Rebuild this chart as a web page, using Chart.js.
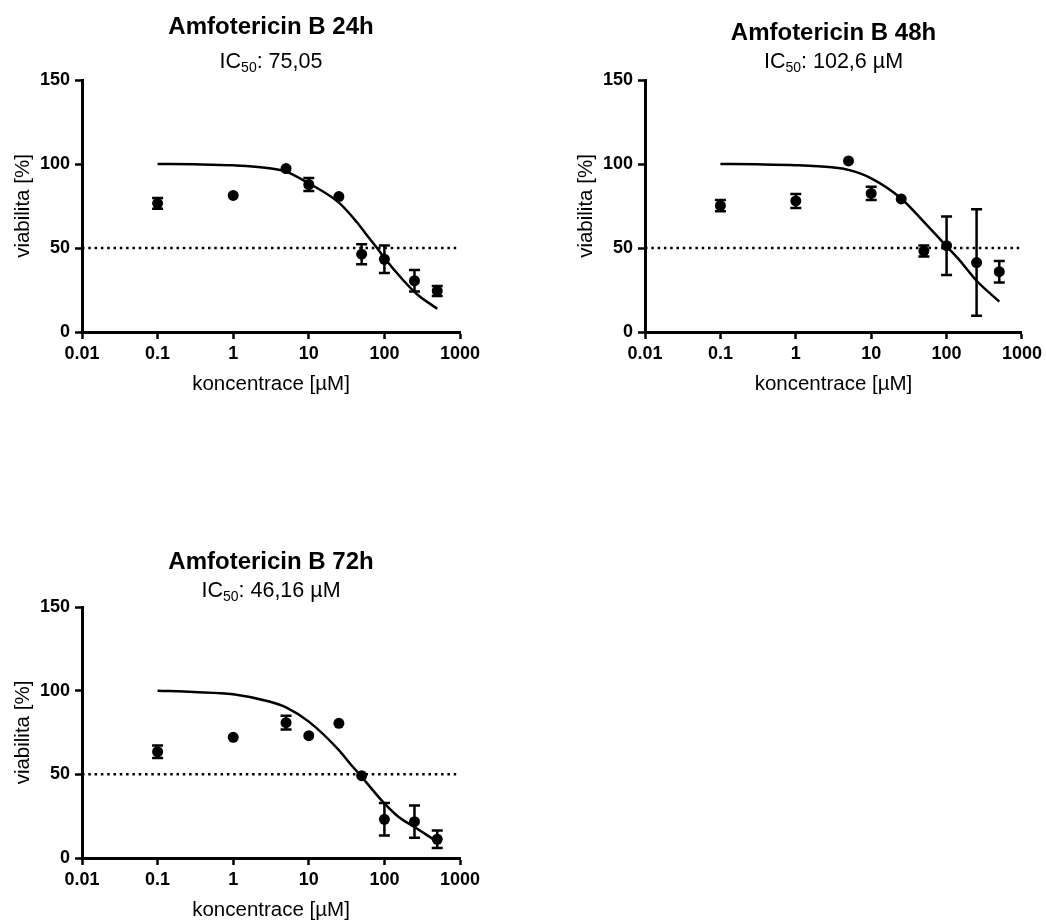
<!DOCTYPE html>
<html>
<head>
<meta charset="utf-8">
<title>Amfotericin B – viabilita</title>
<script src="https://cdn.jsdelivr.net/npm/chart.js@4.4.1/dist/chart.umd.min.js"></script>
<style>
  html, body { margin: 0; padding: 0; background: #fff; }
  #wrap { position: relative; width: 1046px; height: 920px; }
  #wrap canvas { position: absolute; }
</style>
</head>
<body>
<div id="wrap">
  <canvas id="c24" width="500" height="402" style="left:0;top:0"></canvas>
  <canvas id="c48" width="483" height="402" style="left:563px;top:0"></canvas>
  <canvas id="c72" width="500" height="401" style="left:0;top:527px"></canvas>
</div>
<script>
// koncentrace [µM] - stejné pro všechny časy
const conc = [0.1, 1, 5, 10, 25, 50, 100, 250, 500];

// 24 h: průměr a chyba (SEM)
const viab24 = [76.6, 81.3, 97.3, 87.8, 80.6, 46.3, 43.3, 30.5, 24.4];
const err24 = [3.2, 0, 0, 3.8, 0, 6.0, 8.2, 6.4, 3.0];
const fitX24 = [0.1, 0.3, 1, 3, 5, 10, 25, 43, 65, 80, 100, 180, 270, 500];
const fitY24 = [100, 99.8, 99.2, 97.5, 95.5, 88.5, 77, 65.5, 55, 50, 44, 30.5, 22.5, 13.8];

// 48 h
const viab48 = [75.2, 78.0, 101.8, 82.5, 79.2, 48.2, 51.4, 41.3, 35.9];
const err48 = [3.3, 4.2, 0, 4.0, 0, 3.3, 17.4, 31.7, 6.4];
const fitX48 = [0.1, 0.3, 1, 3, 5, 10, 25, 50, 100, 150, 250, 500];
const fitY48 = [100, 99.8, 99.3, 98, 96.5, 91.5, 79.5, 65.5, 51, 42.5, 30.5, 18.1];

// 72 h
const viab72 = [63.5, 72.1, 80.9, 73.1, 80.5, 49.2, 23.1, 21.7, 11.2];
const err72 = [3.7, 0, 4.1, 0, 0, 0, 9.7, 9.6, 5.2];
const fitX72 = [0.1, 0.3, 1, 3, 5, 10, 25, 35, 50, 100, 150, 250, 500];
const fitY72 = [100, 99.2, 97.8, 93.5, 90, 81.5, 64.5, 56.5, 48.5, 32.6, 25, 18.5, 9.7];

const titles = ['Amfotericin B 24h', 'Amfotericin B 48h', 'Amfotericin B 72h'];
const ic50Labels = ['75,05', '102,6 µM', '46,16 µM'];

const xTicks = [0.01, 0.1, 1, 10, 100, 1000];
const yTicks = [0, 50, 100, 150];
const halfLine = 50;

const FONT = '"Liberation Sans", Arial, sans-serif';

// nadpis + IC50 s dolním indexem
const headerPlugin = {
    id: 'header',
    afterDraw(chart, args, opts) {
        const { ctx, chartArea } = chart;
        const cx = (chartArea.left + chartArea.right) / 2;
        ctx.save();
        ctx.fillStyle = '#000';
        ctx.textBaseline = 'alphabetic';
        ctx.textAlign = 'center';
        ctx.font = 'bold 24px ' + FONT;
        ctx.fillText(opts.title, cx, chartArea.top - opts.titleGap);

        const big = '21.5px ' + FONT;
        const small = '14px ' + FONT;
        const rest = ': ' + opts.ic50;
        ctx.textAlign = 'left';
        ctx.font = big;
        const w1 = ctx.measureText('IC').width;
        const w3 = ctx.measureText(rest).width;
        ctx.font = small;
        const w2 = ctx.measureText('50').width;
        let x = cx - (w1 + w2 + w3) / 2;
        const y = chartArea.top - opts.subGap;
        ctx.font = big;
        ctx.fillText('IC', x, y);
        x += w1;
        ctx.font = small;
        ctx.fillText('50', x, y + 4);
        x += w2;
        ctx.font = big;
        ctx.fillText(rest, x, y);
        ctx.restore();
    }
};

// chybové úsečky s kloboučky
const errorBarPlugin = {
    id: 'errorBars',
    afterDatasetsDraw(chart) {
        const { ctx } = chart;
        const yScale = chart.scales.y;
        chart.data.datasets.forEach((ds, i) => {
            if (!ds.errors) return;
            const meta = chart.getDatasetMeta(i);
            ctx.save();
            ctx.strokeStyle = '#000';
            ctx.lineWidth = 2.5;
            meta.data.forEach((pt, j) => {
                const e = ds.errors[j];
                if (!e) return;
                const v = ds.data[j].y;
                const top = yScale.getPixelForValue(v + e);
                const bot = yScale.getPixelForValue(v - e);
                ctx.beginPath();
                ctx.moveTo(pt.x, top);
                ctx.lineTo(pt.x, bot);
                ctx.moveTo(pt.x - 5.5, top);
                ctx.lineTo(pt.x + 5.5, top);
                ctx.moveTo(pt.x - 5.5, bot);
                ctx.lineTo(pt.x + 5.5, bot);
                ctx.stroke();
            });
            ctx.restore();
        });
    }
};

function toXY(xs, ys) {
    return xs.map((x, i) => ({ x: x, y: ys[i] }));
}

function makePanel(id, title, ic50, viab, err, fitX, fitY, gaps) {
    const canvas = document.getElementById(id);
    const tickFont = { family: FONT, size: 18, weight: 'bold' };
    const axisFont = { family: FONT, size: 20.5, weight: 'normal' };
    const axisGrid = {
        display: true,
        drawOnChartArea: false,
        drawTicks: true,
        tickLength: 7,
        tickColor: '#000',
        tickWidth: 2.5
    };
    const axisBorder = { display: true, color: '#000', width: 3 };

    return new Chart(canvas, {
        type: 'line',
        data: {
            datasets: [
                {
                    // 50% hranice
                    data: [{ x: xTicks[0], y: halfLine }, { x: xTicks[xTicks.length - 1], y: halfLine }],
                    borderColor: '#000',
                    borderWidth: 2.5,
                    borderDash: [2.5, 3.8],
                    pointRadius: 0,
                    fill: false
                },
                {
                    // proložená křivka
                    data: toXY(fitX, fitY),
                    borderColor: '#000',
                    borderWidth: 2.5,
                    pointRadius: 0,
                    cubicInterpolationMode: 'monotone',
                    fill: false
                },
                {
                    data: toXY(conc, viab),
                    errors: err,
                    showLine: false,
                    pointRadius: 5.5,
                    pointHoverRadius: 5.5,
                    pointBackgroundColor: '#000',
                    pointBorderWidth: 0
                }
            ]
        },
        options: {
            responsive: false,
            animation: false,
            events: [],
            layout: { padding: { left: 0, right: canvas.width - 460, top: 80, bottom: 5 } },
            plugins: {
                legend: { display: false },
                tooltip: { enabled: false },
                header: { title: title, ic50: ic50, titleGap: gaps[0], subGap: gaps[1] }
            },
            scales: {
                x: {
                    type: 'logarithmic',
                    min: xTicks[0],
                    max: xTicks[xTicks.length - 1],
                    afterBuildTicks: s => { s.ticks = xTicks.map(v => ({ value: v })); },
                    afterFit: s => { s.height = 65; },
                    ticks: {
                        callback: v => String(v),
                        color: '#000',
                        font: tickFont,
                        padding: 4,
                        maxRotation: 0,
                        autoSkip: false
                    },
                    grid: axisGrid,
                    border: axisBorder,
                    title: {
                        display: true,
                        text: 'koncentrace [µM]',
                        color: '#000',
                        font: axisFont,
                        padding: { top: 0, bottom: 0 }
                    }
                },
                y: {
                    type: 'linear',
                    min: yTicks[0],
                    max: yTicks[yTicks.length - 1],
                    afterBuildTicks: s => { s.ticks = yTicks.map(v => ({ value: v })); },
                    afterFit: s => { s.width = 82; },
                    ticks: { color: '#000', font: tickFont, padding: 5 },
                    grid: axisGrid,
                    border: axisBorder,
                    title: {
                        display: true,
                        text: 'viabilita [%]',
                        color: '#000',
                        font: axisFont,
                        padding: { top: 11, bottom: 0 }
                    }
                }
            }
        },
        plugins: [headerPlugin, errorBarPlugin]
    });
}

makePanel('c24', titles[0], ic50Labels[0], viab24, err24, fitX24, fitY24, [46.5, 11.7]);
makePanel('c48', titles[1], ic50Labels[1], viab48, err48, fitX48, fitY48, [40, 11.7]);
makePanel('c72', titles[2], ic50Labels[2], viab72, err72, fitX72, fitY72, [38.5, 10.3]);
</script>
</body>
</html>
